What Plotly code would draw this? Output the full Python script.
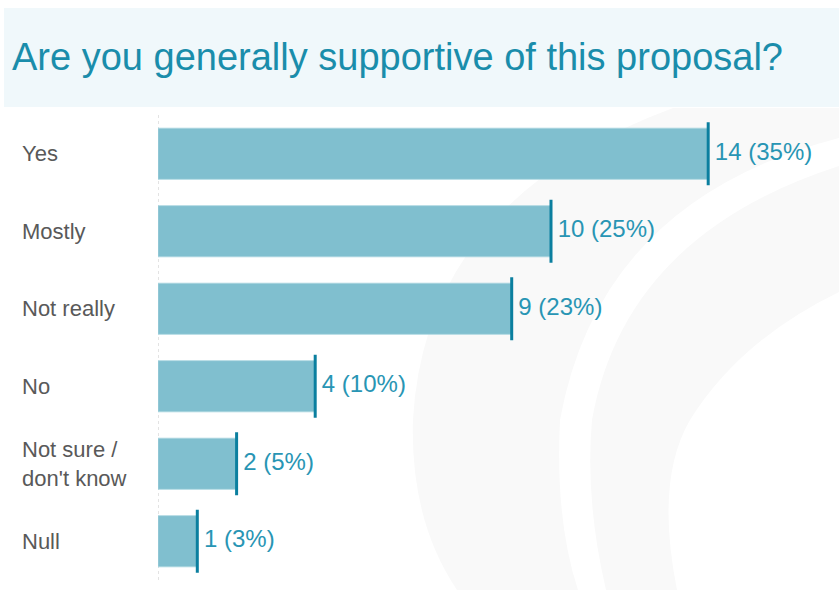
import plotly.graph_objects as go

categories = ["Yes", "Mostly", "Not really", "No", "Not sure /<br>don't know", "Null"]
counts = [14, 10, 9, 4, 2, 1]
percents = [35, 25, 23, 10, 5, 3]
labels = [f"\u00a0{c} ({p}%)" for c, p in zip(counts, percents)]

W, H = 839, 590
L, R, T, B = 158, 0, 115, 10
PW, PH = W - L - R, H - T - B


def px(x):
    return (x - L) / PW


def py(y):
    return (H - B - y) / PH


def path(points):
    out = []
    for cmd, *pts in points:
        s = cmd
        for (x, y) in pts:
            s += f" {px(x):.4f},{py(y):.4f}"
        out.append(s)
    return " ".join(out) + " Z"


FONT = "Liberation Sans, Arial, sans-serif"

fig = go.Figure()

fig.add_trace(go.Bar(
    y=categories, x=counts, orientation="h",
    marker=dict(color="#80bfcf", line=dict(color="#a9d5e0", width=0.8)),
    width=0.66, hoverinfo="skip", showlegend=False,
))

fig.add_trace(go.Scatter(
    y=categories, x=counts, mode="markers",
    marker=dict(symbol="line-ns", size=45, line=dict(color="#0b7f9f", width=3)),
    hoverinfo="skip", showlegend=False, cliponaxis=False,
))

fig.add_trace(go.Scatter(
    y=categories, x=counts, mode="text", text=labels,
    textposition="middle right",
    textfont=dict(family=FONT, size=24, color="#2895b4"),
    hoverinfo="skip", showlegend=False, cliponaxis=False,
))

shapes = [
    # title band
    dict(type="rect", xref="paper", yref="paper",
         x0=px(4), x1=px(839), y0=py(107), y1=py(8),
         fillcolor="#f0f8fb", line=dict(width=0), layer="below"),
    # watermark grey swoosh
    dict(type="path", xref="paper", yref="paper", layer="below",
         path=path([("M", (673, 108)), ("Q", (425, 200), (413, 420)),
                    ("Q", (410, 520), (457, 590)), ("L", (677, 590)),
                    ("Q", (655, 480), (690, 420)), ("Q", (740, 340), (839, 292)),
                    ("L", (839, 108))]),
         fillcolor="#f9f9f9", line=dict(width=0)),
    # white stripe through the swoosh
    dict(type="path", xref="paper", yref="paper", layer="below",
         path=path([("M", (839, 138)), ("Q", (600, 200), (560, 420)),
                    ("Q", (555, 520), (578, 590)), ("L", (606, 590)),
                    ("Q", (585, 500), (592, 420)), ("Q", (625, 235), (839, 166))]),
         fillcolor="#ffffff", line=dict(width=0)),
    # dotted zero line
    dict(type="line", xref="x", yref="paper", x0=0, x1=0, y0=0, y1=1,
         line=dict(color="#c8c8c8", width=1, dash="dot"), layer="below"),
]

annotations = [
    dict(x=px(20), xref="paper", y=c, yref="y", text=c, showarrow=False,
         xanchor="left", yanchor="middle", align="left",
         font=dict(family=FONT, size=22, color="#595959"))
    for c in categories
]

fig.update_layout(
    width=W, height=H,
    margin=dict(l=L, r=R, t=T, b=B, pad=0),
    paper_bgcolor="#ffffff", plot_bgcolor="rgba(0,0,0,0)",
    title=dict(text="Are you generally supportive of this proposal?",
               x=12 / W, xanchor="left", xref="container",
               y=1 - 57 / H, yanchor="middle", yref="container",
               font=dict(family=FONT, size=38, color="#1a8dab")),
    xaxis=dict(range=[0, PW / 39.3], visible=False, fixedrange=True),
    yaxis=dict(categoryorder="array", categoryarray=categories,
               range=[len(categories) - 0.5, -0.5], autorange=False,
               showticklabels=False, showgrid=False, zeroline=False, showline=False,
               ticks="", fixedrange=True),
    shapes=shapes, annotations=annotations,
    bargap=0.34,
)

fig.write_html("out.html", config={"displayModeBar": False},
               post_script="document.body.style.margin='0';")
